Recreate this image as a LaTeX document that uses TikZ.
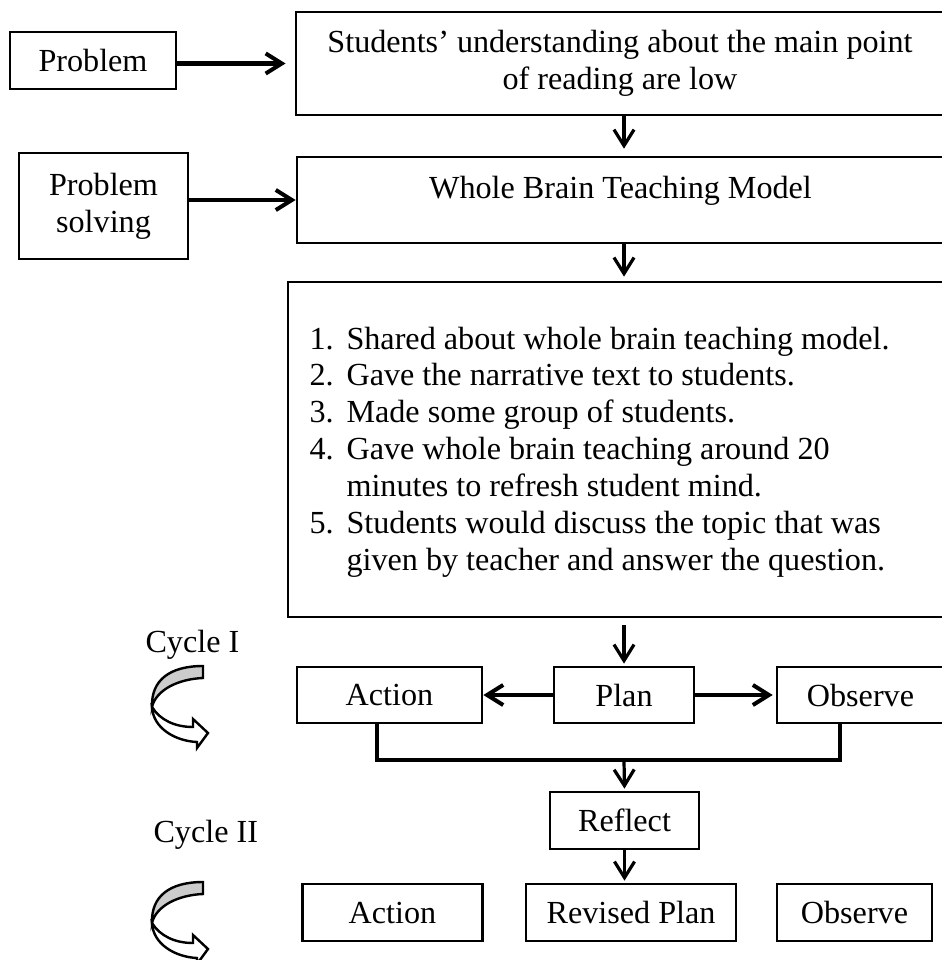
\documentclass[tikz,border=0pt]{standalone}
\usepackage{fontspec}
\setmainfont{Liberation Serif}
\usetikzlibrary{arrows.meta}
\newcommand{\pxu}{0.3731pt}

\begin{document}
\begin{tikzpicture}[x=0.3731pt, y=-0.3731pt,
    font=\fontsize{12}{13.8}\selectfont,
    box/.style={draw, line width=1pt, inner sep=0pt, align=center},
    sz/.style 2 args={minimum width=#1*\pxu, minimum height=#2*\pxu},
    arr/.style={line width=1.5pt, -{Straight Barb[length=6pt,width=7.5pt]}},
    darr/.style={line width=1.2pt, -{Straight Barb[length=6pt,width=7.5pt]}},
    twist/.style={line width=0.9pt}]

    \useasboundingbox (0,0) rectangle (941,960);

    % Problem / solution
    \node[box, sz={166}{57}] (prob) at (93,60.5) {Problem};
    \node[box, sz={169}{106}] (ps) at (103.5,206) {Problem\\solving};
    \node[box, sz={648}{103}] (reading) at (620,63.5) {Students’ understanding about the main point\\of reading are low};
    \node[box, sz={647}{86}, text height=8pt, text depth=8.75pt] (wb) at (620.5,200) {Whole Brain Teaching Model};

    % Steps
    \node[box, sz={656}{335}] (steps) at (616,449.5) {};
    \node[anchor=base west, inner sep=0pt] (list) at (309,349) {%
      \begin{tabular}[t]{@{}l@{\hspace{4.8pt}}l@{}}
        1. & Shared about whole brain teaching model.\\
        2. & Gave the narrative text to students.\\
        3. & Made some group of students.\\
        4. & Gave whole brain teaching around 20\\
           & minutes to refresh student mind.\\
        5. & Students would discuss the topic that was\\
           & given by teacher and answer the question.
      \end{tabular}};

    % Cycle I
    \node[box, sz={140}{56}] (plan) at (624,695) {Plan};
    \node[box, sz={185}{56}] (act1) at (389.5,695) {Action};
    \node[box, sz={167}{56}] (obs1) at (860.5,695) {Observe};
    \node[box, sz={149}{57}] (refl) at (624.5,820.5) {Reflect};

    % Cycle II
    \node[box, sz={180}{57}] (act2) at (392.5,912.5) {Action};
    \node[box, sz={210}{57}] (rplan) at (631,912.5) {Revised Plan};
    \node[box, sz={155}{57}] (obs2) at (854.5,912.5) {Observe};

    \node[anchor=base west, inner sep=0pt] (c1) at (145,652) {Cycle I};
    \node[anchor=base west, inner sep=0pt] (c2) at (153,842) {Cycle II};

    % arrows
    \draw[arr, shorten >=3.4pt] (prob.east |- reading.west) -- (reading.west);
    \draw[arr] (ps.east |- wb.west) -- (wb.west);
    \draw[darr, shorten >=2.6pt] (reading.south -| plan) -- (wb.north -| plan);
    \draw[darr, shorten >=1.5pt] (wb.south -| plan) -- (steps.north -| plan);
    \draw[darr, shorten <=2.6pt, shorten >=0.75pt] (steps.south -| plan) -- (plan.north);
    \draw[arr] (plan.west) -- (act1.east);
    \draw[arr, shorten >=1.1pt] (plan.east) -- (obs1.west);

    \coordinate (jl) at (377,760);
    \coordinate (jr) at (840,760);
    \draw[line width=1.2pt] (act1.south -| jl) -- (jl) -- (jr) -- (obs1.south -| jr);
    \draw[darr, shorten >=0.75pt] (jl -| plan) -- (refl.north);
    \draw[darr, shorten >=0.75pt] (refl.south) -- (rplan.north -| refl);

    % curved cycle arrows
    \foreach \dy in {0,216} {
      \begin{scope}[shift={(0,\dy)}]
        \filldraw[twist, fill=gray!40] (203,666) .. controls (170,666) and (151,680) .. (152,707)
          .. controls (156,690) and (178,679) .. (203,678) -- cycle;
        \filldraw[twist, fill=white] (152,707) .. controls (160,720) and (175,727) .. (193,727)
          -- (193,719) -- (208,733) -- (197,748) -- (197,742)
          .. controls (175,741) and (153,728) .. (152,707) -- cycle;
      \end{scope}
    }

\end{tikzpicture}
\end{document}
